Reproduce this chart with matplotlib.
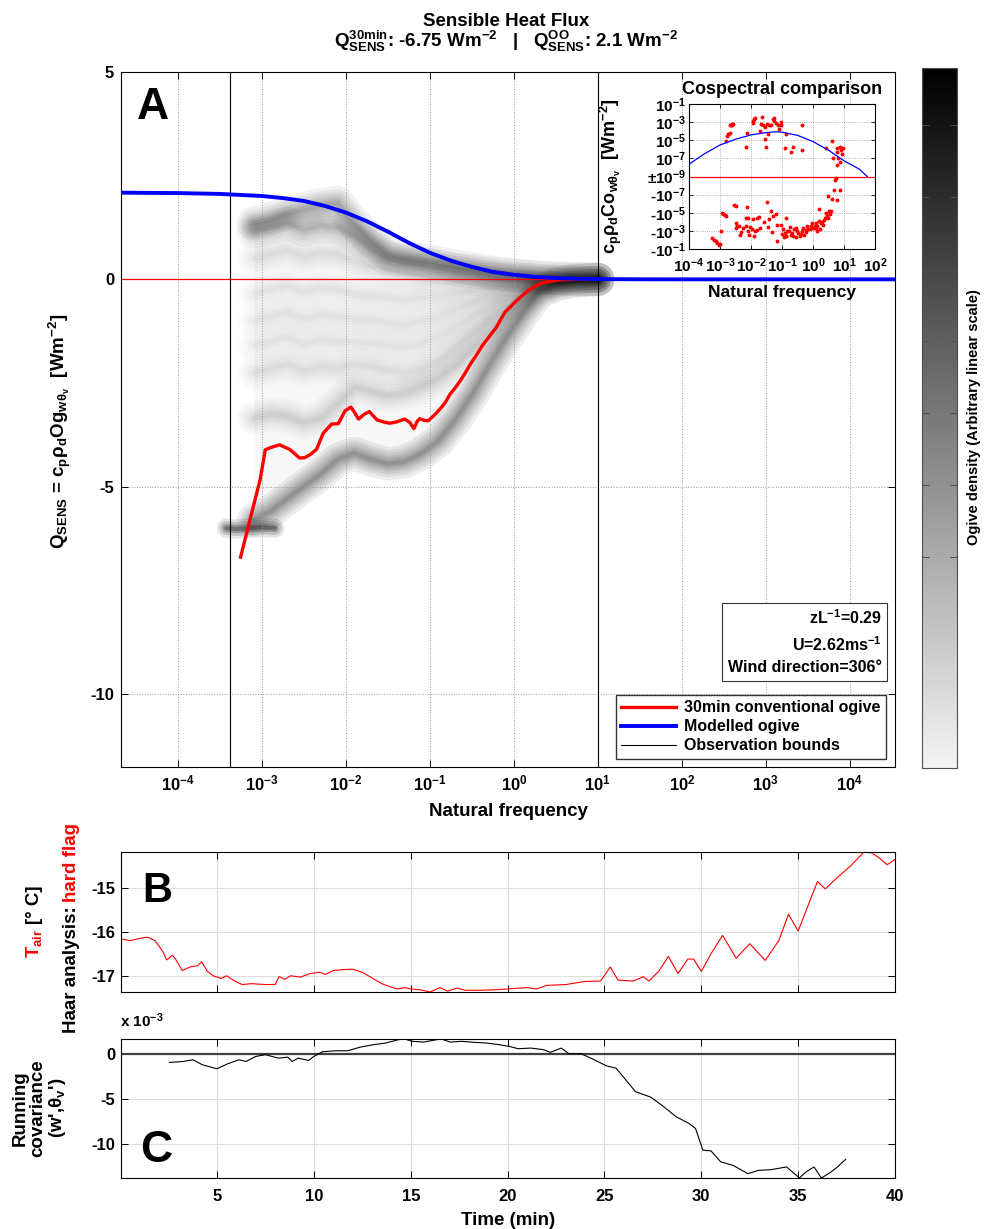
import numpy as np
import matplotlib
matplotlib.use('Agg')
import matplotlib.pyplot as plt
import matplotlib.ticker as mticker
from matplotlib.colors import LinearSegmentedColormap, Normalize
from matplotlib.cm import ScalarMappable

plt.rcParams['font.family'] = ['Liberation Sans', 'DejaVu Sans']
plt.rcParams['font.weight'] = 'bold'
plt.rcParams['axes.labelweight'] = 'bold'
plt.rcParams['axes.titleweight'] = 'bold'
plt.rcParams['axes.unicode_minus'] = False
plt.rcParams['mathtext.fontset'] = 'custom'
plt.rcParams['mathtext.rm'] = 'Liberation Sans:bold'
plt.rcParams['mathtext.it'] = 'Liberation Sans:bold'
plt.rcParams['mathtext.bf'] = 'Liberation Sans:bold'
plt.rcParams['mathtext.default'] = 'rm'
plt.rcParams['axes.linewidth'] = 0.8

# ---------------- data ----------------
# panel A : modelled ogive (blue)
model_log10f = [-4.68, -4.0, -3.5, -3.0, -2.75, -2.5, -2.25, -2.0, -1.75, -1.5,
                -1.25, -1.0, -0.75, -0.5, -0.25, 0.0, 0.25, 0.5, 0.75, 1.0,
                1.5, 2.0, 4.54]
model_ogive = [2.09, 2.08, 2.06, 2.01, 1.96, 1.89, 1.77, 1.61, 1.40, 1.15,
               0.88, 0.64, 0.45, 0.30, 0.18, 0.11, 0.06, 0.03, 0.015, 0.006,
               0.001, 0.0, 0.0]

# panel A : 30 min conventional ogive (red)
conv_log10f = [-3.254, -3.10, -3.02, -2.96, -2.90, -2.79, -2.67, -2.55, -2.49, -2.42,
               -2.35, -2.27, -2.17, -2.09, -2.01, -1.94, -1.90, -1.85, -1.78, -1.72,
               -1.63, -1.55, -1.48, -1.40, -1.30, -1.24, -1.19, -1.15, -1.12, -1.07,
               -1.02, -0.95, -0.88, -0.82, -0.76, -0.70, -0.64, -0.58, -0.52, -0.45,
               -0.38, -0.29, -0.21, -0.11, 0.05, 0.17, 0.29, 0.39, 0.55, 0.75, 1.0]
conv_ogive = [-6.70, -5.46, -4.82, -4.11, -4.06, -3.99, -4.10, -4.31, -4.30, -4.22,
              -4.10, -3.71, -3.49, -3.48, -3.17, -3.08, -3.20, -3.37, -3.25, -3.19,
              -3.39, -3.44, -3.47, -3.44, -3.37, -3.45, -3.60, -3.42, -3.36, -3.40,
              -3.41, -3.28, -3.13, -2.98, -2.77, -2.62, -2.45, -2.26, -2.05, -1.84,
              -1.61, -1.37, -1.16, -0.80, -0.48, -0.27, -0.12, -0.06, -0.01, 0.0, 0.0]

obs_bounds = [1.0 / 2400, 10.0]

# panel A : ogive density ridges (sub-record ogives)
dens_log10f = [-3.1, -2.9, -2.7, -2.5, -2.3, -2.1, -1.9, -1.7, -1.5, -1.3, -1.1,
               -0.9, -0.7, -0.5, -0.3, -0.1, 0.1, 0.3, 0.5, 0.7, 1.0]
ridge_top = [1.35, 1.45, 1.6, 1.7, 1.8, 1.85, 1.35, 0.95, 0.62, 0.52, 0.47,
             0.4, 0.32, 0.25, 0.18, 0.13, 0.09, 0.05, 0.03, 0.01, 0.0]
ridge_a = [1.15, 1.25, 1.35, 1.2, 1.3, 1.25, 1.05, 0.75, 0.5, 0.42, 0.36,
           0.3, 0.24, 0.19, 0.14, 0.1, 0.07, 0.04, 0.02, 0.01, 0.0]
ridge_b = [0.5, 0.6, 0.7, 0.55, 0.65, 0.6, 0.45, 0.3, 0.2, 0.12, 0.08,
           0.05, 0.03, 0.01, 0.0, -0.02, -0.02, -0.01, -0.01, 0.0, 0.0]
ridge_c = [-0.35, -0.25, -0.15, -0.3, -0.2, -0.25, -0.35, -0.4, -0.45, -0.5, -0.45,
           -0.4, -0.33, -0.27, -0.21, -0.15, -0.1, -0.06, -0.03, -0.01, 0.0]
ridge_d = [-1.0, -0.9, -0.8, -0.95, -0.85, -0.9, -0.95, -1.0, -1.05, -1.1, -1.0,
           -0.88, -0.72, -0.56, -0.42, -0.29, -0.18, -0.1, -0.05, -0.02, 0.0]
ridge_e = [-1.6, -1.5, -1.4, -1.55, -1.45, -1.5, -1.5, -1.55, -1.6, -1.65, -1.55,
           -1.38, -1.15, -0.9, -0.66, -0.45, -0.29, -0.17, -0.09, -0.03, 0.0]
ridge_f = [-2.25, -2.15, -2.05, -2.2, -2.1, -2.15, -2.05, -2.1, -2.2, -2.25, -2.15,
           -1.95, -1.65, -1.32, -0.98, -0.68, -0.43, -0.25, -0.12, -0.04, 0.0]
ridge_g = [-3.35, -3.25, -3.3, -3.45, -3.35, -3.0, -2.6, -2.7, -2.8, -2.75, -2.6,
           -2.4, -2.1, -1.72, -1.3, -0.9, -0.56, -0.32, -0.16, -0.05, 0.0]
ridge_low = [-5.8, -5.6, -5.3, -5.0, -4.7, -4.35, -4.2, -4.35, -4.45, -4.4, -4.2,
             -3.9, -3.4, -2.8, -2.1, -1.45, -0.85, -0.3, -0.12, -0.04, 0.0]
ridge_weight = [1.0, 0.75, 0.25, 0.2, 0.2, 0.2, 0.25, 0.45, 1.3]
blob_log10f = [-3.42, -3.3, -3.15, -3.0, -2.85]
blob_q = [-6.0, -6.02, -6.0, -5.98, -6.0]

# inset : cospectra
cosp_log10f = [
    -2.80, -2.76, -2.73, -2.69, -2.68, -2.65, -2.62, -2.59, -2.60, -2.14, -2.15,
    -1.92, -1.90, -1.88, -1.94, -1.65, -1.68, -1.61, -1.72, -1.55, -1.49, -1.45,
    -1.42, -1.35, -1.29, -1.25, -1.26, -1.19, -1.14, -1.10, -1.03, -1.04,
    -1.55, -1.53, -0.88, -0.90, -0.71, -0.65, -0.37, -0.35,
    0.41, 0.60, 0.76, 0.78, 0.87, 0.91, 0.97, 0.92, 0.66, 0.82, 0.77, 0.86,
    0.73, 0.71, 0.69, 0.87, 0.48, 0.62, 0.78, 0.59, 0.56, 0.48, 0.42, 0.18,
    -2.55, -2.49, -2.13, -2.95, -2.89, -2.84, -2.80, -2.97,
    -3.27, -3.19, -3.14, -3.09, -3.03, -2.99,
    -1.49, -1.37, -1.42, -1.29, -1.20, -0.87, -1.15,
    -2.17, -2.09, -1.95, -1.82, -1.75, -1.58, -1.44, -1.72, -1.81,
    -2.49, -2.44, -2.39, -2.47, -2.32, -2.35, -2.26, -2.17, -2.03, -2.10, -2.06,
    -1.96, -1.87, -1.90,
    -1.31, -1.15,
    -1.04, -0.97, -0.91, -0.88, -0.83, -0.75, -0.69, -0.65, -0.60, -0.54, -0.47,
    -0.43, -0.37, -0.32, -0.28, -0.22, -0.15, -0.08, -0.02, 0.03, 0.09, 0.14,
    0.19, 0.25, 0.28, 0.32, 0.35, 0.14, 0.22, 0.39, 0.46, 0.52,
    -0.99, -0.92, -0.86, -0.72, -0.56, -0.40, -0.24, -0.77, -0.51, -0.18, -0.11,
    -0.02, 0.06, 0.11]
cosp_value = [
    8.5e-6, 3.3e-5, 4.7e-5, 6e-5, 4.3e-4, 5e-4, 7e-4, 6.5e-4, 4.3e-4, 7e-5, 2e-6,
    1.2e-3, 2e-3, 3e-3, 8.5e-4, 3.3e-3, 5.5e-4, 4.3e-4, 1e-4, 2.8e-4, 6e-4, 5e-5,
    4.3e-4, 5e-4, 2e-3, 3e-3, 1.2e-3, 8.5e-4, 4.3e-4, 1.8e-4, 1e-3, 5e-4,
    1.4e-5, 2e-6, 5.5e-5, 1.3e-6, 5.5e-7, 1.7e-6, 9e-7, 4.3e-4,
    1.3e-6, 8.5e-6, 1.3e-6, 4.7e-7, 1.7e-6, 9e-7, 1.3e-6, 3e-7, 1.1e-7, 1e-7, 1.8e-8, 3.6e-8,
    -1.5e-9, -2.3e-9, -3e-8, -3e-8, -1.4e-7, -2.8e-7, -3.9e-7, -6.5e-6, -1.5e-5, -3.6e-5, -1e-5, -4.3e-6,
    -1.5e-6, -1.8e-6, -2.3e-6, -1e-5, -1.5e-5, -2e-5, -2.3e-5, -1.1e-3,
    -6e-3, -9e-3, -1.4e-2, -2.1e-2, -3.3e-2, -2.8e-2,
    -6.5e-7, -6.5e-6, -4.7e-5, -2.3e-5, -1.5e-5, -4.3e-5, -2e-4,
    -3.6e-5, -3.6e-5, -5.5e-5, -4.3e-5, -2.8e-5, -1.1e-4, -3.6e-4, -4.7e-4, -9e-4,
    -1.5e-4, -2.6e-4, -3e-4, -4.3e-4, -1.4e-3, -2.6e-3, -4.7e-4, -3e-4, -3.9e-4, -1.1e-3, -2.6e-3,
    -7e-4, -1.1e-3, -3.9e-3,
    -1.4e-3, -1.4e-2,
    -2e-4, -7e-4, -1.7e-3, -3.9e-3, -1.1e-3, -3.6e-4, -1.7e-3, -3.9e-3, -7e-4, -4.7e-4, -1.7e-3,
    -3.3e-3, -1.1e-3, -4.7e-4, -2.6e-3, -1.4e-3, -7e-4, -3e-4, -1.5e-4, -4.7e-4, -1.3e-4, -2.6e-4,
    -8.5e-5, -1.5e-4, -1.1e-4, -2e-4, -6.5e-5, -1.1e-3, -7e-4, -3.6e-5, -2.3e-5, -6.5e-6,
    -2e-3, -4.7e-3, -3.3e-3, -2.6e-3, -4.7e-3, -2e-3, -8.5e-4, -1.1e-3, -1.1e-3, -3e-4, -7e-4,
    -4.7e-4, -2.6e-4, -4.7e-4]
cosp_model_log10f = [-4.0, -3.5, -3.0, -2.5, -2.0, -1.5, -1.2, -1.0, -0.5, 0.0, 0.5, 1.0, 1.5, 1.75]
cosp_model = [2.3e-8, 3.2e-7, 3.0e-6, 1.3e-5, 3.9e-5, 7.1e-5, 8.5e-5, 7.8e-5, 3.5e-5,
              7.1e-6, 7.9e-7, 5.5e-8, 6.3e-9, 1e-9]

# panel B : air temperature
time_b = [0.07, 0.5, 1.0, 1.4, 1.8, 2.2, 2.4, 2.7, 2.9, 3.2, 3.6, 4.0, 4.2, 4.5, 4.8,
          5.2, 5.5, 5.9, 6.3, 6.8, 7.5, 8.0, 8.2, 8.5, 8.8, 9.3, 9.8, 10.3, 10.6, 11.0,
          11.5, 12.0, 12.5, 13.0, 13.5, 14.0, 14.3, 14.7, 15.0, 15.5, 16.0, 16.5, 16.9,
          17.4, 17.8, 18.5, 19.3, 20.0, 21.0, 21.5, 22.0, 23.0, 24.0, 24.8, 25.3, 25.7,
          26.5, 27.0, 27.3, 27.8, 28.3, 28.8, 29.3, 29.6, 30.0, 30.5, 31.1, 31.8, 32.5,
          33.3, 34.0, 34.5, 35.0, 35.6, 36.0, 36.4, 37.0, 37.7, 38.4, 38.8, 39.2, 39.6, 40.0]
tair_b = [-16.16, -16.2, -16.15, -16.12, -16.2, -16.45, -16.64, -16.53, -16.65, -16.88,
          -16.8, -16.77, -16.68, -16.9, -17.0, -17.06, -17.0, -17.12, -17.2, -17.18,
          -17.2, -17.2, -17.02, -17.08, -17.0, -17.03, -16.95, -16.92, -16.97, -16.88,
          -16.86, -16.85, -16.92, -17.05, -17.18, -17.26, -17.3, -17.27, -17.3, -17.32,
          -17.37, -17.27, -17.35, -17.28, -17.33, -17.33, -17.32, -17.3, -17.27, -17.3,
          -17.22, -17.2, -17.13, -17.12, -16.8, -17.1, -17.12, -17.02, -17.12, -16.9,
          -16.56, -16.95, -16.62, -16.62, -16.9, -16.5, -16.08, -16.6, -16.27, -16.65,
          -16.2, -15.6, -15.98, -15.3, -14.85, -15.02, -14.77, -14.5, -14.18, -14.2,
          -14.32, -14.47, -14.35]

# panel C : running covariance (units of 1e-3)
time_c = [2.54, 3.26, 3.75, 4.24, 4.99, 5.55, 6.13, 6.5, 7.0, 7.5, 8.16, 8.65, 8.87, 9.2,
          9.72, 10.0, 10.44, 11.1, 11.75, 12.4, 13.05, 13.7, 14.36, 14.68, 15.07, 15.66,
          16.15, 16.57, 17.03, 17.62, 18.27, 18.92, 19.58, 20.07, 20.55, 21.2, 21.86,
          22.2, 22.77, 23.16, 23.8, 24.47, 25.1, 25.6, 26.1, 26.6, 27.4, 28.06, 28.7,
          29.36, 29.7, 30.08, 30.5, 31.0, 31.65, 32.4, 32.95, 33.6, 34.4, 35.07, 35.4,
          35.82, 36.2, 36.7, 37.03, 37.45]
cov_c = [-0.93, -0.82, -0.63, -1.19, -1.64, -1.08, -0.63, -0.82, -0.26, -0.07, -0.45,
         -0.34, -0.82, -0.45, -0.71, -0.26, 0.26, 0.37, 0.37, 0.78, 1.04, 1.23, 1.6,
         1.68, 1.42, 1.34, 1.53, 1.68, 1.34, 1.42, 1.31, 1.23, 1.04, 0.86, 0.6, 0.67,
         0.49, 0.19, 0.67, 0.04, 0.04, -0.63, -1.31, -1.57, -2.87, -4.18, -4.81, -5.86,
         -6.98, -7.72, -8.28, -10.7, -10.78, -12.0, -12.4, -13.32, -12.95, -12.87,
         -12.57, -13.8, -13.13, -12.57, -13.8, -13.13, -12.57, -11.72]

time_ticks = [5, 10, 15, 20, 25, 30, 35, 40]

# ---------------- figure ----------------
W, H = 990.0, 1229.0
fig = plt.figure(figsize=(W / 100, H / 100), dpi=100)


def box(l, t, r, b):
    return [l / W, 1 - b / H, (r - l) / W, (b - t) / H]


def pow10(v, pos):
    if v <= 0:
        return ''
    return '10$^{%d}$' % int(round(np.log10(v)))


axA = fig.add_axes(box(121, 72, 895, 767))
cax = fig.add_axes(box(922, 68, 957, 768))
axI = fig.add_axes(box(689, 104, 875, 249))
axB = fig.add_axes(box(121, 852, 895, 992))
axC = fig.add_axes(box(121, 1039, 895, 1178))

# --- panel A : blurred density ridges
fd = 10.0 ** np.array(dens_log10f)
ridges = [ridge_top, ridge_a, ridge_b, ridge_c, ridge_d, ridge_e, ridge_f, ridge_g, ridge_low]
axA.fill_between(fd, ridge_top, ridge_low, color='k', alpha=0.03, lw=0, zorder=1)
for q, w in zip(ridges, ridge_weight):
    for lw in (24, 19, 15, 11, 8, 5, 3):
        axA.plot(fd, q, color='k', alpha=min(0.055 * w, 1), lw=lw,
                 solid_capstyle='round', solid_joinstyle='round', zorder=1)
for lw, a in ((14, 0.10), (10, 0.15), (6, 0.22), (3, 0.25)):
    axA.plot(10.0 ** np.array(blob_log10f), blob_q, color='k', alpha=a, lw=lw,
             solid_capstyle='round', zorder=1)

axA.axhline(0, color='red', lw=0.9, zorder=2)
for i, fb in enumerate(obs_bounds):
    axA.axvline(fb, color='k', lw=0.8, zorder=2,
                label='Observation bounds' if i == 0 else None)
l_conv, = axA.plot(10.0 ** np.array(conv_log10f), conv_ogive, color='red', lw=2.4,
                   zorder=4, label='30min conventional ogive')
l_mod, = axA.plot(10.0 ** np.array(model_log10f), model_ogive, color='blue', lw=2.8,
                  zorder=5, label='Modelled ogive')

axA.set_xscale('log')
axA.set_xlim(2.1e-5, 3.45e4)
axA.set_ylim(-11.76, 5)
axA.xaxis.set_major_locator(mticker.FixedLocator([1e-4, 1e-3, 1e-2, 1e-1, 1, 10, 1e2, 1e3, 1e4]))
axA.xaxis.set_minor_locator(mticker.NullLocator())
axA.xaxis.set_major_formatter(mticker.FuncFormatter(pow10))
axA.set_yticks([-10, -5, 0, 5])
axA.tick_params(direction='in', top=True, right=True, length=5, width=0.7,
                labelsize=12, pad=5)
axA.grid(True, ls=':', color='0.6', lw=0.7)
axA.set_xlabel('Natural frequency', fontsize=13.5)
axA.xaxis.set_label_coords(0.5, -0.052)

hl = axA.get_legend_handles_labels()
order = [l_conv, l_mod, hl[0][0]]
axA.legend(order, [h.get_label() for h in order], loc='lower right',
           bbox_to_anchor=(0.988, 0.0115), fontsize=11.5, frameon=True, fancybox=False,
           edgecolor='0.2', framealpha=1, handlelength=3.4, labelspacing=0.25,
           borderpad=0.35, borderaxespad=0, handletextpad=0.5)
axA.text(0.983, 0.18, 'zL$^{-1}$=0.29\nU=2.62ms$^{-1}$\nWind direction=306°',
         transform=axA.transAxes, ha='right', va='center', multialignment='right',
         fontsize=11.5, linespacing=1.5, zorder=6,
         bbox=dict(boxstyle='square,pad=0.35', fc='white', ec='0.2', lw=0.8))
axA.text(0.0207, 0.932, 'A', transform=axA.transAxes, fontsize=32, fontweight='heavy',
         va='baseline', ha='left')

fig.text(60 / W, 1 - 431 / H, r'Q$_{SENS}$ = c$_p\rho_d$Og$_{w\theta_v}$  [Wm$^{-2}$]',
         rotation=90, ha='center', va='center', fontsize=13.5)

# --- colorbar
cmap = LinearSegmentedColormap.from_list('ogive', ['#f4f4f4', '#000000'])
cb = fig.colorbar(ScalarMappable(norm=Normalize(0, 1), cmap=cmap), cax=cax)
cb.set_ticks(np.linspace(0.301, 0.919, 7))
cax.tick_params(direction='in', length=5, width=0.7, color='0.3', left=True, right=True,
                labelleft=False, labelright=False)
cb.outline.set_edgecolor('0.3')
fig.text(974 / W, 1 - 417 / H, 'Ogive density (Arbitrary linear scale)', rotation=90,
         ha='center', va='center', fontsize=10.5)

# --- inset cospectra


def _fwd(v):
    v = np.asarray(v, dtype=float)
    with np.errstate(divide='ignore', invalid='ignore'):
        m = np.clip(np.log10(np.abs(v)) + 9.0, 0.0, None)
    return np.sign(v) * np.nan_to_num(m)


def _inv(y):
    y = np.asarray(y, dtype=float)
    return np.sign(y) * 10.0 ** (np.abs(y) - 9.0)


axI.set_facecolor('white')
axI.set_zorder(5)
axI.set_xscale('log')
axI.set_yscale('function', functions=(_fwd, _inv))
axI.axhline(1e-9, color='red', lw=0.9, zorder=2)
axI.plot(10.0 ** np.array(cosp_log10f), cosp_value, 'o', color='red', ms=2.8,
         mec='none', zorder=3)
axI.plot(10.0 ** np.array(cosp_model_log10f), cosp_model, color='blue', lw=0.9, zorder=4)
axI.set_xlim(1e-4, 1e2)
axI.set_ylim(-0.1, 0.1)
axI.xaxis.set_major_locator(mticker.FixedLocator([1e-4, 1e-3, 1e-2, 1e-1, 1, 10, 100]))
axI.xaxis.set_minor_locator(mticker.NullLocator())
axI.xaxis.set_major_formatter(mticker.FuncFormatter(pow10))
axI.set_yticks([1e-1, 1e-3, 1e-5, 1e-7, 1e-9, -1e-7, -1e-5, -1e-3, -1e-1],
               ['10$^{-1}$', '10$^{-3}$', '10$^{-5}$', '10$^{-7}$', '±10$^{-9}$',
                '-10$^{-7}$', '-10$^{-5}$', '-10$^{-3}$', '-10$^{-1}$'])
axI.yaxis.set_minor_locator(mticker.NullLocator())
axI.tick_params(direction='in', top=True, right=True, length=3, width=0.6,
                labelsize=11, pad=2)
axI.tick_params(axis='x', pad=5)
axI.grid(True, ls=':', color='0.6', lw=0.6)
axI.set_title('Cospectral comparison', fontsize=13, pad=7)
axI.set_xlabel('Natural frequency', fontsize=12.5)
axI.xaxis.set_label_coords(0.5, -0.25)
axI.set_ylabel(r'c$_p\rho_d$Co$_{w\theta_v}$  [Wm$^{-2}$]', fontsize=13)
axI.yaxis.set_label_coords(-0.35, 0.5)

# --- panel B
axB.plot(time_b, tair_b, color='red', lw=0.8)
axB.set_xlim(0.04, 40)
axB.set_ylim(min(tair_b), max(tair_b))
axB.set_xticks(time_ticks, [''] * len(time_ticks))
axB.set_yticks([-17, -16, -15])
axB.tick_params(direction='in', top=True, right=True, length=5, width=0.7,
                labelsize=12, pad=4)
axB.grid(True, color='0.87', lw=0.8)
axB.text(0.027, 0.643, 'B', transform=axB.transAxes, fontsize=30, fontweight='heavy',
         va='baseline', ha='left')

# --- panel C
axC.axhline(0, color='0.25', lw=1.6)
axC.plot(time_c, cov_c, color='k', lw=0.8)
axC.set_xlim(0.04, 40)
axC.set_ylim(min(cov_c), max(cov_c))
axC.set_xticks(time_ticks)
axC.set_yticks([-10, -5, 0])
axC.tick_params(direction='in', top=True, right=True, length=5, width=0.7,
                labelsize=12, pad=4)
axC.tick_params(axis='x', pad=8)
axC.grid(True, color='0.87', lw=0.8)
axC.set_xlabel('Time (min)', fontsize=13.5)
axC.xaxis.set_label_coords(0.5, -0.245)
axC.text(0.025, 0.115, 'C', transform=axC.transAxes, fontsize=32, fontweight='heavy',
         va='baseline', ha='left')
fig.text(120 / W, 1 - 1021 / H, 'x 10$^{-3}$', ha='left', va='center', fontsize=11)
fig.text(40 / W, 1 - 1108 / H, "Running\ncovariance\n(w',θ$_v$')", rotation=90,
         ha='center', va='center', multialignment='center', linespacing=1.05,
         fontsize=13.5)

# --- two-coloured rotated labels of panel B
renderer = fig.canvas.get_renderer()


def rotated_parts(x_px, yc_px, parts, size, gap_px=5):
    texts = [fig.text(x_px / W, 0.5, s, color=c, fontsize=size, rotation=90,
                      rotation_mode='anchor', ha='left', va='baseline')
             for s, c in parts]
    lengths = [t.get_window_extent(renderer).height for t in texts]
    total = sum(lengths) + gap_px * (len(texts) - 1)
    y = (H - yc_px) - total / 2
    for t, ln in zip(texts, lengths):
        t.set_position((x_px / W, y / H))
        y += ln + gap_px


rotated_parts(39, 922, [('T$_{air}$', 'red'), ('[° C]', 'k')], 13.5)
rotated_parts(76, 928, [('Haar analysis:', 'k'), ('hard flag', 'red')], 13.5)

# --- titles
fig.text(506 / W, 1 - 22 / H, 'Sensible Heat Flux', ha='center', va='center', fontsize=13.5)
fig.text(506 / W, 1 - 41 / H,
         'Q$^{30min}_{SENS}$: -6.75 Wm$^{-2}$   |   Q$^{OO}_{SENS}$: 2.1 Wm$^{-2}$',
         ha='center', va='center', fontsize=13.5)

fig.savefig('out.png', dpi=100)
